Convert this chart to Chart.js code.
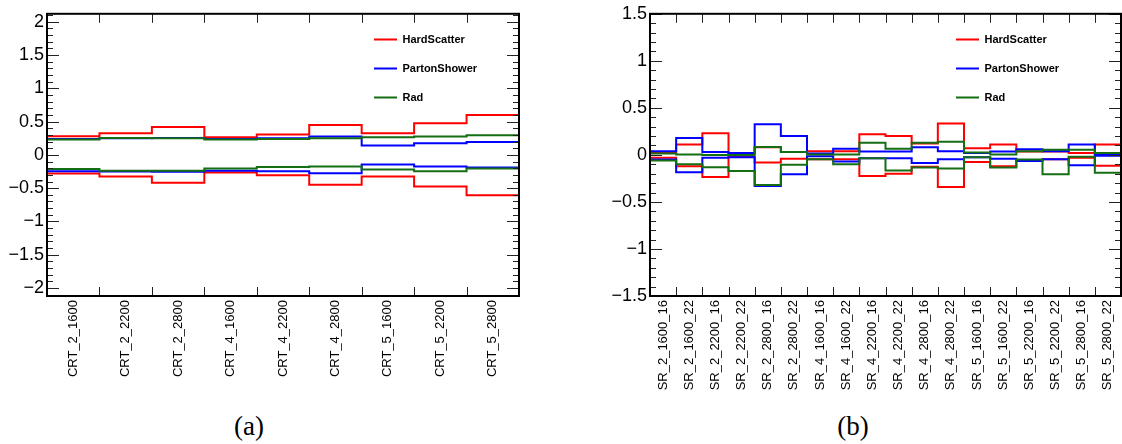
<!DOCTYPE html>
<html>
<head>
<meta charset="utf-8">
<script src="https://cdn.jsdelivr.net/npm/chart.js@4.4.1/dist/chart.umd.min.js"></script>
<style>
    body { margin: 0; background: #fff; }
    #page { position: relative; width: 1122px; height: 444px; overflow: hidden; }
    .pad { position: absolute; top: 0; width: 561px; height: 400px; }
    .cap { position: absolute; top: 410px; width: 80px; margin-left: -40px; text-align: center;
           font-family: 'Liberation Serif', serif; font-size: 27px; line-height: 32px; color: #000; }
</style>
</head>
<body>
<div id="page">
    <div class="pad" style="left:0"><canvas id="chart-a" width="561" height="400"></canvas></div>
    <div class="pad" style="left:561px"><canvas id="chart-b" width="561" height="400"></canvas></div>
    <div class="cap" style="left:249px">(a)</div>
    <div class="cap" style="left:853px">(b)</div>
</div>
<script>
// panel (a): control regions
var crtLabels = ["CRT_2_1600", "CRT_2_2200", "CRT_2_2800", "CRT_4_1600", "CRT_4_2200", "CRT_4_2800", "CRT_5_1600", "CRT_5_2200", "CRT_5_2800"];
var hsUpA  = [0.28, 0.325, 0.42, 0.265, 0.305, 0.45, 0.325, 0.475, 0.60];
var hsDnA  = [-0.28, -0.325, -0.42, -0.265, -0.305, -0.45, -0.325, -0.475, -0.605];
var psUpA  = [0.24, 0.25, 0.255, 0.24, 0.25, 0.275, 0.14, 0.175, 0.195];
var psDnA  = [-0.245, -0.25, -0.255, -0.24, -0.245, -0.275, -0.145, -0.175, -0.19];
var radUpA = [0.23, 0.255, 0.25, 0.23, 0.24, 0.25, 0.265, 0.275, 0.295];
var radDnA = [-0.21, -0.24, -0.24, -0.205, -0.18, -0.175, -0.22, -0.245, -0.205];
var yTicksA = [-2, -1.5, -1, -0.5, 0, 0.5, 1, 1.5, 2];

// panel (b): signal regions
var srLabels = ["SR_2_1600_16", "SR_2_1600_22", "SR_2_2200_16", "SR_2_2200_22", "SR_2_2800_16", "SR_2_2800_22",
                "SR_4_1600_16", "SR_4_1600_22", "SR_4_2200_16", "SR_4_2200_22", "SR_4_2800_16", "SR_4_2800_22",
                "SR_5_1600_16", "SR_5_1600_22", "SR_5_2200_16", "SR_5_2200_22", "SR_5_2800_16", "SR_5_2800_22"];
var hsUpB  = [0.025, 0.11, 0.23, 0.015, 0.08, 0.03, 0.04, 0.04, 0.22, 0.2, 0.12, 0.335, 0.07, 0.11, 0.035, 0.035, 0.02, 0.11];
var hsDnB  = [-0.03, -0.12, -0.235, -0.02, -0.08, -0.04, -0.045, -0.045, -0.225, -0.2, -0.125, -0.34, -0.075, -0.12, -0.055, -0.045, -0.03, -0.115];
var psUpB  = [0.04, 0.18, 0.03, 0.02, 0.325, 0.2, 0.015, 0.065, 0.035, 0.035, 0.08, 0.04, 0.02, 0.035, 0.06, 0.04, 0.11, 0.005];
var psDnB  = [-0.05, -0.185, -0.03, -0.025, -0.33, -0.205, -0.015, -0.07, -0.035, -0.035, -0.085, -0.045, -0.025, -0.04, -0.065, -0.045, -0.11, -0.01];
var radUpB = [0.015, 0.005, 0.0, 0.0, 0.085, 0.03, 0.005, 0.005, 0.13, 0.065, 0.13, 0.14, 0.025, 0.005, 0.04, 0.055, 0.055, 0.02];
var radDnB = [-0.06, -0.1, -0.13, -0.17, -0.32, -0.105, -0.045, -0.1, -0.035, -0.165, -0.135, -0.145, -0.025, -0.135, -0.05, -0.205, -0.02, -0.19];
var yTicksB = [-1.5, -1, -0.5, 0, 0.5, 1, 1.5];

var RED = "#ff0000", BLUE = "#0000ff", GREEN = "rgb(20,110,20)";

// frame, inward ticks (ROOT style) and legend placed inside the frame
var rootFrame = {
    id: "rootFrame",
    afterLayout: function (chart, args, opts) {
        var lg = chart.legend;
        var pad = lg.options.labels.padding;
        var w = lg.width, h = lg.height;
        lg.left = opts.legendX - pad;
        lg.right = lg.left + w;
        lg.top = opts.legendY - pad - 6;
        lg.bottom = lg.top + h;
    },
    afterDatasetsDraw: function (chart) {
        var ctx = chart.ctx, a = chart.chartArea, xs = chart.scales.x, ys = chart.scales.y;
        ctx.save();
        ctx.strokeStyle = "#222";
        ctx.lineWidth = 1;
        ctx.beginPath();
        for (var i = 1; i < xs.max; i++) {
            var px = Math.round(xs.getPixelForValue(i)) + 0.5;
            ctx.moveTo(px, a.bottom); ctx.lineTo(px, a.bottom - 9);
            ctx.moveTo(px, a.top); ctx.lineTo(px, a.top + 9);
        }
        for (var k = Math.ceil(ys.min * 10); k <= Math.floor(ys.max * 10); k++) {
            var py = Math.round(ys.getPixelForValue(k / 10)) + 0.5;
            var len = (k % 5 === 0) ? 12 : 6;
            ctx.moveTo(a.left, py); ctx.lineTo(a.left + len, py);
            ctx.moveTo(a.right, py); ctx.lineTo(a.right - len, py);
        }
        ctx.stroke();
        ctx.strokeStyle = "#000";
        ctx.lineWidth = 2;
        ctx.strokeRect(a.left, a.top, a.right - a.left, a.bottom - a.top);
        ctx.restore();
    }
};

function makeDatasets(n, series) {
    var datasets = [];
    series.forEach(function (s) {
        [s.up, s.down].forEach(function (vals) {
            var pts = vals.map(function (v, i) { return { x: i, y: v }; });
            pts.push({ x: n, y: vals[n - 1] });
            datasets.push({
                label: s.label,
                borderColor: s.color,
                backgroundColor: s.color,
                data: pts,
                stepped: "before",
                borderWidth: 2,
                pointRadius: 0,
                fill: false
            });
        });
    });
    return datasets;
}

function getStepChart(id, labels, series, yTicks, yMin, yMax, yWidth, padding, legendX) {
    var n = labels.length;
    return new Chart(document.getElementById(id), {
        type: "line",
        data: { datasets: makeDatasets(n, series) },
        plugins: [rootFrame],
        options: {
            responsive: false,
            animation: false,
            events: [],
            layout: { padding: padding },
            scales: {
                x: {
                    type: "linear",
                    min: 0,
                    max: n,
                    grid: { display: false, drawTicks: false, tickLength: 0 },
                    border: { display: false },
                    afterBuildTicks: function (s) {
                        s.ticks = labels.map(function (l, i) { return { value: i + 0.5 }; });
                    },
                    afterFit: function (s) {
                        s.height = 104;
                        s.paddingLeft = 0;
                        s.paddingRight = 0;
                    },
                    ticks: {
                        autoSkip: false,
                        minRotation: 90,
                        maxRotation: 90,
                        padding: 4,
                        color: "#000",
                        font: { family: "Liberation Sans", size: 13 },
                        callback: function (v) { return labels[Math.floor(v)]; }
                    }
                },
                y: {
                    min: yMin,
                    max: yMax,
                    grid: { display: false, drawTicks: false, tickLength: 0 },
                    border: { display: false },
                    afterBuildTicks: function (s) {
                        s.ticks = yTicks.map(function (v) { return { value: v }; });
                    },
                    afterFit: function (s) { s.width = yWidth; },
                    ticks: {
                        padding: 3,
                        color: "#000",
                        font: { family: "Liberation Sans", size: 18 },
                        callback: function (v) { return v < 0 ? "\u2212" + (-v) : "" + v; }
                    }
                }
            },
            plugins: {
                rootFrame: { legendX: legendX, legendY: 40 },
                tooltip: { enabled: false },
                legend: {
                    position: "chartArea",
                    align: "start",
                    labels: {
                        usePointStyle: true,
                        pointStyle: "line",
                        pointStyleWidth: 23,
                        padding: 18,
                        color: "#000",
                        font: { family: "Liberation Sans", size: 11, weight: "bold" },
                        filter: function (item) { return item.datasetIndex % 2 === 0; },
                        sort: function (a, b) { return b.datasetIndex - a.datasetIndex; }
                    }
                }
            }
        }
    });
}

// Rad first so it is drawn on top, legend order is reversed back
getStepChart("chart-a", crtLabels, [
    { label: "Rad", color: GREEN, up: radUpA, down: radDnA },
    { label: "PartonShower", color: BLUE, up: psUpA, down: psDnA },
    { label: "HardScatter", color: RED, up: hsUpA, down: hsDnA }
], yTicksA, -2.12, 2.12, 47, { left: 0, right: 42, top: 13, bottom: 0 }, 374);

getStepChart("chart-b", srLabels, [
    { label: "Rad", color: GREEN, up: radUpB, down: radDnB },
    { label: "PartonShower", color: BLUE, up: psUpB, down: psDnB },
    { label: "HardScatter", color: RED, up: hsUpB, down: hsDnB }
], yTicksB, -1.5, 1.5, 48, { left: 41, right: 1, top: 13, bottom: 0 }, 395);
</script>
</body>
</html>
